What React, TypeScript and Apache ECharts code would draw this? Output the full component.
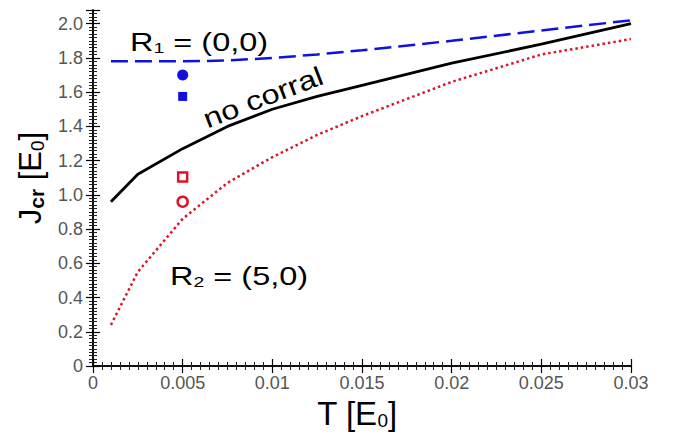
import React, { useEffect, useRef } from "react";
import * as echarts from "echarts";

const T_VALUES = [0.001, 0.0025, 0.005, 0.0075, 0.01, 0.0125, 0.015, 0.02, 0.025, 0.03];
const R1_J = [1.78, 1.78, 1.78, 1.785, 1.8, 1.82, 1.845, 1.9, 1.96, 2.02];
const NO_CORRAL_J = [0.96, 1.12, 1.27, 1.4, 1.5, 1.575, 1.64, 1.77, 1.88, 2.0];
const R2_J = [0.24, 0.55, 0.86, 1.07, 1.22, 1.35, 1.46, 1.66, 1.82, 1.91];

const MARK_T = 0.005;
const R1_CIRCLE = 1.7;
const R1_SQUARE = 1.575;
const R2_SQUARE = 1.105;
const R2_CIRCLE = 0.96;

const X_TICKS = ["0", "0.005", "0.01", "0.015", "0.02", "0.025", "0.03"];
const Y_TICKS = ["0", "0.2", "0.4", "0.6", "0.8", "1.0", "1.2", "1.4", "1.6", "1.8", "2.0"];

const FONT = "Liberation Sans, Arial, sans-serif";
const BLUE = "#1010e0";
const RED = "#dc1428";

export default function App() {
  const ref = useRef<HTMLDivElement>(null);
  useEffect(() => {
    if (!ref.current) return;
    const chart = echarts.init(ref.current, undefined, { renderer: "svg" });
    const zip = (ys: number[]) => T_VALUES.map((t, i) => [t, ys[i]]);
    const axisLine = { show: true, lineStyle: { color: "#000", width: 1.5 } };
    const ticks = { show: true, inside: true, length: 7, lineStyle: { color: "#000", width: 1.2 } };
    const minor = { show: true, splitNumber: 10, length: 4, lineStyle: { color: "#222", width: 1 } };
    const xLabel = (v: number) => X_TICKS[Math.round(v / 0.005)] ?? "";
    const yLabel = (v: number) => (v > 2.05 ? "" : Y_TICKS[Math.round(v / 0.2)] ?? "");
    const subRich = (size: number, pad: number, bold = false) => ({
      fontSize: size,
      fontFamily: FONT,
      fontWeight: bold ? "bold" : "normal",
      verticalAlign: "bottom",
      padding: [pad, 0, 0, 0],
      fill: "#000",
    });
    chart.setOption({
      animation: false,
      backgroundColor: "#fff",
      grid: { left: 93, right: 44, top: 10, bottom: 68, containLabel: false },
      xAxis: [
        {
          type: "value",
          min: 0,
          max: 0.03,
          interval: 0.005,
          axisLine,
          axisTick: ticks,
          minorTick: minor,
          splitLine: { show: false },
          axisLabel: { formatter: xLabel, color: "#555", fontSize: 18, fontFamily: FONT, margin: 8 },
        },
        {
          type: "value",
          position: "top",
          min: 0,
          max: 0.03,
          interval: 0.005,
          axisLine,
          axisTick: ticks,
          minorTick: minor,
          splitLine: { show: false },
          axisLabel: { show: false },
        },
      ],
      yAxis: [
        {
          type: "value",
          min: 0,
          max: 2.08,
          interval: 0.2,
          axisLine,
          axisTick: ticks,
          minorTick: minor,
          splitLine: { show: false },
          axisLabel: {
            formatter: yLabel,
            showMaxLabel: false,
            color: "#555",
            fontSize: 18,
            fontFamily: FONT,
            margin: 10,
          },
        },
        {
          type: "value",
          position: "right",
          min: 0,
          max: 2.08,
          interval: 0.2,
          axisLine,
          axisTick: ticks,
          minorTick: minor,
          splitLine: { show: false },
          axisLabel: { show: false },
        },
      ],
      series: [
        {
          type: "line",
          name: "R1",
          data: zip(R1_J),
          showSymbol: false,
          lineStyle: { color: BLUE, width: 2.5, type: [17, 7] },
        },
        {
          type: "line",
          name: "no corral",
          data: zip(NO_CORRAL_J),
          showSymbol: false,
          lineStyle: { color: "#000", width: 2.8 },
        },
        {
          type: "line",
          name: "R2",
          data: zip(R2_J),
          showSymbol: false,
          lineStyle: { color: RED, width: 2.5, type: [2.5, 3] },
        },
        {
          type: "scatter",
          data: [[MARK_T, R1_CIRCLE]],
          symbol: "circle",
          symbolSize: 11,
          itemStyle: { color: BLUE, opacity: 1 },
        },
        {
          type: "scatter",
          data: [[MARK_T, R1_SQUARE]],
          symbol: "rect",
          symbolSize: 9,
          itemStyle: { color: BLUE, opacity: 1 },
        },
        {
          type: "scatter",
          data: [[MARK_T, R2_SQUARE]],
          symbol: "rect",
          symbolSize: 9,
          itemStyle: { color: "#fff", borderColor: RED, borderWidth: 2.5, opacity: 1 },
        },
        {
          type: "scatter",
          data: [[MARK_T, R2_CIRCLE]],
          symbol: "circle",
          symbolSize: 10,
          itemStyle: { color: "#fff", borderColor: RED, borderWidth: 2.5, opacity: 1 },
        },
      ],
      graphic: [
        {
          type: "text",
          x: 130,
          y: 42,
          scaleX: 1.3,
          style: {
            text: "R{sub|1} = (0,0)",
            font: `25px ${FONT}`,
            fill: "#000",
            verticalAlign: "middle",
            rich: { sub: subRich(15, 12) },
          },
        },
        {
          type: "text",
          x: 263,
          y: 97,
          rotation: (21 * Math.PI) / 180,
          scaleX: 1.2,
          style: {
            text: "no corral",
            font: `27px ${FONT}`,
            fill: "#000",
            align: "center",
            verticalAlign: "middle",
          },
        },
        {
          type: "text",
          x: 170,
          y: 276,
          scaleX: 1.3,
          style: {
            text: "R{sub|2} = (5,0)",
            font: `25px ${FONT}`,
            fill: "#000",
            verticalAlign: "middle",
            rich: { sub: subRich(15, 12) },
          },
        },
        {
          type: "text",
          x: 357,
          y: 413,
          style: {
            text: "T [E{sub|0}]",
            font: `33px ${FONT}`,
            fill: "#000",
            align: "center",
            verticalAlign: "middle",
            rich: { sub: subRich(19, 14) },
          },
        },
        {
          type: "text",
          x: 30,
          y: 178,
          rotation: Math.PI / 2,
          style: {
            text: "J{b|cr} [E{sub|0}]",
            font: `31px ${FONT}`,
            fill: "#000",
            align: "center",
            verticalAlign: "middle",
            rich: { b: subRich(21, 12, true), sub: subRich(19, 14) },
          },
        },
      ],
    });
    return () => chart.dispose();
  }, []);
  return <div ref={ref} style={{ position: "absolute", left: 0, top: 0, width: 675, height: 434 }} />;
}
